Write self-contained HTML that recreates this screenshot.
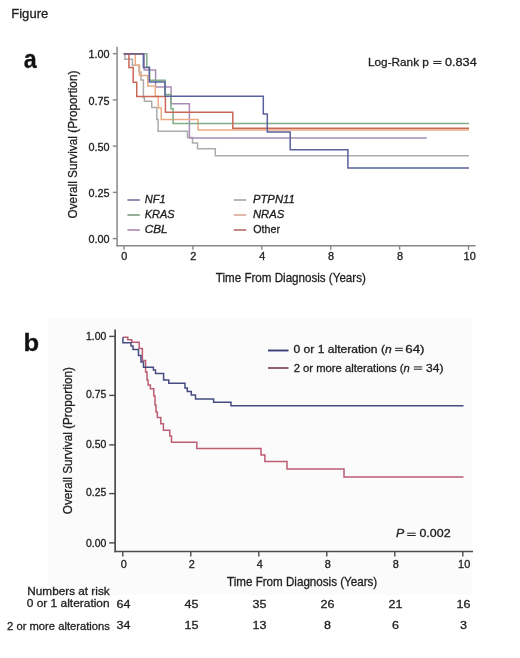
<!DOCTYPE html>
<html><head><meta charset="utf-8"><title>Figure</title>
<style>
html,body{margin:0;padding:0;background:#fff;}
body{width:520px;height:658px;overflow:hidden;font-family:"Liberation Sans", sans-serif;}
svg{display:block;font-family:"Liberation Sans", sans-serif;will-change:transform;}
text{stroke:#1e1e1e;stroke-width:0.3px;}
</style></head><body>
<svg width="520" height="658" viewBox="0 0 520 658">
<rect width="520" height="658" fill="#ffffff"/>
<rect x="48" y="318" width="424" height="277" fill="#fbfbfb"/>
<text transform="translate(11.23,18.10) scale(1.0105,1)" font-size="12.94" fill="#1e1e1e"><tspan>Figure</tspan></text>
<text transform="translate(23.73,67.60) scale(0.9306,1)" font-size="25.00" fill="#111"><tspan font-weight="bold">a</tspan></text>
<text transform="translate(23.41,351.30) scale(1.0812,1)" font-size="23.67" fill="#111"><tspan font-weight="bold">b</tspan></text>
<line x1="117.06" y1="46.8" x2="117.06" y2="246.6" stroke="#888888" stroke-width="1.5"/>
<line x1="116.3" y1="245.85" x2="475.6" y2="245.85" stroke="#888888" stroke-width="1.5"/>
<line x1="112.8" y1="53.7" x2="117.2" y2="53.7" stroke="#888888" stroke-width="1.4"/>
<line x1="112.8" y1="99.9" x2="117.2" y2="99.9" stroke="#888888" stroke-width="1.4"/>
<line x1="112.8" y1="146.1" x2="117.2" y2="146.1" stroke="#888888" stroke-width="1.4"/>
<line x1="112.8" y1="192.4" x2="117.2" y2="192.4" stroke="#888888" stroke-width="1.4"/>
<line x1="112.8" y1="238.6" x2="117.2" y2="238.6" stroke="#888888" stroke-width="1.4"/>
<text transform="translate(109.53,58.30) scale(1.0400,1)" font-size="10.45" text-anchor="end" fill="#1e1e1e">1.00</text>
<text transform="translate(109.56,104.50) scale(1.0400,1)" font-size="10.45" text-anchor="end" fill="#1e1e1e">0.75</text>
<text transform="translate(109.53,150.70) scale(1.0400,1)" font-size="10.45" text-anchor="end" fill="#1e1e1e">0.50</text>
<text transform="translate(109.56,197.00) scale(1.0400,1)" font-size="10.45" text-anchor="end" fill="#1e1e1e">0.25</text>
<text transform="translate(109.53,243.20) scale(1.0400,1)" font-size="10.45" text-anchor="end" fill="#1e1e1e">0.00</text>
<line x1="124.0" y1="245.8" x2="124.0" y2="249.8" stroke="#888888" stroke-width="1.4"/>
<line x1="192.9" y1="245.8" x2="192.9" y2="249.8" stroke="#888888" stroke-width="1.4"/>
<line x1="261.8" y1="245.8" x2="261.8" y2="249.8" stroke="#888888" stroke-width="1.4"/>
<line x1="330.7" y1="245.8" x2="330.7" y2="249.8" stroke="#888888" stroke-width="1.4"/>
<line x1="399.6" y1="245.8" x2="399.6" y2="249.8" stroke="#888888" stroke-width="1.4"/>
<line x1="468.5" y1="245.8" x2="468.5" y2="249.8" stroke="#888888" stroke-width="1.4"/>
<text transform="translate(124.40,259.60) scale(1.0600,1)" font-size="10.30" text-anchor="middle" fill="#1e1e1e">0</text>
<text transform="translate(193.30,259.60) scale(1.0600,1)" font-size="10.30" text-anchor="middle" fill="#1e1e1e">2</text>
<text transform="translate(262.20,259.60) scale(1.0600,1)" font-size="10.30" text-anchor="middle" fill="#1e1e1e">4</text>
<text transform="translate(331.10,259.60) scale(1.0600,1)" font-size="10.30" text-anchor="middle" fill="#1e1e1e">8</text>
<text transform="translate(400.00,259.60) scale(1.0600,1)" font-size="10.30" text-anchor="middle" fill="#1e1e1e">8</text>
<text transform="translate(469.70,259.60) scale(1.0600,1)" font-size="10.30" text-anchor="middle" fill="#1e1e1e">10</text>
<text transform="translate(215.84,281.50) scale(0.9081,1)" font-size="12.79" fill="#1e1e1e"><tspan>Time From Diagnosis (Years)</tspan></text>
<text transform="translate(77.20,218.45) rotate(-90) scale(0.8862,1)" font-size="13.29" fill="#1e1e1e"><tspan>Overall Survival (Proportion)</tspan></text>
<text transform="translate(368.03,65.70) scale(1.0124,1)" font-size="11.63" fill="#1e1e1e"><tspan>Log-Rank p</tspan></text>
<rect x="433.20" y="60.90" width="8.30" height="1.0" fill="#222"/><rect x="433.20" y="63.00" width="8.30" height="1.0" fill="#222"/>
<text transform="translate(445.00,65.70) scale(1.1361,1)" font-size="11.17" fill="#1e1e1e"><tspan>0.834</tspan></text>
<polyline points="124.00,53.75 124.90,53.75 124.90,59.20 132.40,59.20 132.40,65.30 139.00,65.30 139.00,72.00 141.00,72.00 141.00,80.00 143.40,80.00 143.40,97.50 144.40,97.50 144.40,101.20 151.70,101.20 151.70,107.40 156.80,107.40 156.80,119.40 158.10,119.40 158.10,131.25 187.50,131.25 187.50,137.50 192.50,137.50 192.50,143.10 197.50,143.10 197.50,148.80 215.30,148.80 215.30,155.80 469.00,155.80" fill="none" stroke="#ababab" stroke-width="1.5" stroke-linejoin="miter" stroke-linecap="butt"/>
<polyline points="124.00,53.75 144.20,53.75 144.20,69.90 155.60,69.90 155.60,87.00 171.10,87.00 171.10,103.80 189.40,103.80 189.40,138.00 426.80,138.00" fill="none" stroke="#a98cb6" stroke-width="1.5" stroke-linejoin="miter" stroke-linecap="butt"/>
<polyline points="124.00,53.75 135.30,53.75 135.30,65.20 139.50,65.20 139.50,75.50 147.80,75.50 147.80,86.10 155.30,86.10 155.30,96.50 158.30,96.50 158.30,108.10 161.25,108.10 161.25,119.40 198.10,119.40 198.10,129.90 469.00,129.90" fill="none" stroke="#eba984" stroke-width="1.5" stroke-linejoin="miter" stroke-linecap="butt"/>
<polyline points="124.00,53.75 146.80,53.75 146.80,67.20 149.60,67.20 149.60,80.30 165.20,80.30 165.20,94.60 171.00,94.60 171.00,108.70 173.10,108.70 173.10,123.40 469.00,123.40" fill="none" stroke="#80ad88" stroke-width="1.5" stroke-linejoin="miter" stroke-linecap="butt"/>
<polyline points="124.00,53.75 128.90,53.75 128.90,67.50 133.20,67.50 133.20,82.20 136.75,82.20 136.75,96.50 165.40,96.50 165.40,112.20 232.80,112.20 232.80,128.20 469.00,128.20" fill="none" stroke="#ca6858" stroke-width="1.5" stroke-linejoin="miter" stroke-linecap="butt"/>
<polyline points="124.00,53.75 143.40,53.75 143.40,67.60 149.30,67.60 149.30,82.00 165.00,82.00 165.00,96.20 263.30,96.20 263.30,114.10 267.30,114.10 267.30,132.10 290.20,132.10 290.20,149.70 347.90,149.70 347.90,167.90 469.00,167.90" fill="none" stroke="#5a619c" stroke-width="1.5" stroke-linejoin="miter" stroke-linecap="butt"/>
<line x1="123.3" y1="53.75" x2="143.4" y2="53.75" stroke="#7a5f80" stroke-width="1.5"/>
<line x1="127.4" y1="200.0" x2="139.8" y2="200.0" stroke="#74769a" stroke-width="1.6"/>
<line x1="127.4" y1="215.0" x2="139.8" y2="215.0" stroke="#7c9c80" stroke-width="1.6"/>
<line x1="127.4" y1="230.0" x2="139.8" y2="230.0" stroke="#ad88ae" stroke-width="1.6"/>
<line x1="233.8" y1="200.0" x2="246.20000000000002" y2="200.0" stroke="#a4a4a4" stroke-width="1.6"/>
<line x1="233.8" y1="215.0" x2="246.20000000000002" y2="215.0" stroke="#d8aa92" stroke-width="1.6"/>
<line x1="233.8" y1="230.0" x2="246.20000000000002" y2="230.0" stroke="#b46a66" stroke-width="1.6"/>
<text transform="translate(144.66,203.20) scale(0.9751,1)" font-size="11.34" fill="#1e1e1e"><tspan font-style="italic">NF1</tspan></text>
<text transform="translate(144.66,217.90) scale(1.0060,1)" font-size="10.90" fill="#1e1e1e"><tspan font-style="italic">KRAS</tspan></text>
<text transform="translate(144.75,232.80) scale(1.0932,1)" font-size="10.76" fill="#1e1e1e"><tspan font-style="italic">CBL</tspan></text>
<text transform="translate(252.95,203.40) scale(1.0215,1)" font-size="11.05" fill="#1e1e1e"><tspan font-style="italic">PTPN11</tspan></text>
<text transform="translate(252.95,218.20) scale(1.0191,1)" font-size="11.05" fill="#1e1e1e"><tspan font-style="italic">NRAS</tspan></text>
<text transform="translate(253.30,233.00) scale(0.9569,1)" font-size="11.19" fill="#1e1e1e"><tspan>Other</tspan></text>
<line x1="115.14" y1="329.6" x2="115.14" y2="552.3" stroke="#4c4c4c" stroke-width="1.7"/>
<line x1="114.3" y1="551.5" x2="473" y2="551.5" stroke="#4c4c4c" stroke-width="1.6"/>
<line x1="109.2" y1="336.4" x2="115.2" y2="336.4" stroke="#4c4c4c" stroke-width="1.4"/>
<line x1="109.2" y1="395.4" x2="115.2" y2="395.4" stroke="#4c4c4c" stroke-width="1.4"/>
<line x1="109.2" y1="444.9" x2="115.2" y2="444.9" stroke="#4c4c4c" stroke-width="1.4"/>
<line x1="109.2" y1="493.6" x2="115.2" y2="493.6" stroke="#4c4c4c" stroke-width="1.4"/>
<line x1="109.2" y1="542.9" x2="115.2" y2="542.9" stroke="#4c4c4c" stroke-width="1.4"/>
<text transform="translate(106.26,339.70) scale(1.0350,1)" font-size="10.10" text-anchor="end" fill="#1e1e1e">1.00</text>
<text transform="translate(106.29,398.30) scale(1.0350,1)" font-size="10.10" text-anchor="end" fill="#1e1e1e">0.75</text>
<text transform="translate(106.26,447.70) scale(1.0350,1)" font-size="10.10" text-anchor="end" fill="#1e1e1e">0.50</text>
<text transform="translate(106.29,496.40) scale(1.0350,1)" font-size="10.10" text-anchor="end" fill="#1e1e1e">0.25</text>
<text transform="translate(106.26,546.90) scale(1.0350,1)" font-size="10.10" text-anchor="end" fill="#1e1e1e">0.00</text>
<line x1="122.8" y1="551.5" x2="122.8" y2="556.6" stroke="#4c4c4c" stroke-width="1.4"/>
<line x1="190.8" y1="551.5" x2="190.8" y2="556.6" stroke="#4c4c4c" stroke-width="1.4"/>
<line x1="258.8" y1="551.5" x2="258.8" y2="556.6" stroke="#4c4c4c" stroke-width="1.4"/>
<line x1="326.8" y1="551.5" x2="326.8" y2="556.6" stroke="#4c4c4c" stroke-width="1.4"/>
<line x1="394.8" y1="551.5" x2="394.8" y2="556.6" stroke="#4c4c4c" stroke-width="1.4"/>
<line x1="462.8" y1="551.5" x2="462.8" y2="556.6" stroke="#4c4c4c" stroke-width="1.4"/>
<text transform="translate(123.85,568.30) scale(1.0600,1)" font-size="10.30" text-anchor="middle" fill="#1e1e1e">0</text>
<text transform="translate(191.85,568.30) scale(1.0600,1)" font-size="10.30" text-anchor="middle" fill="#1e1e1e">2</text>
<text transform="translate(259.85,568.30) scale(1.0600,1)" font-size="10.30" text-anchor="middle" fill="#1e1e1e">4</text>
<text transform="translate(327.85,568.30) scale(1.0600,1)" font-size="10.30" text-anchor="middle" fill="#1e1e1e">8</text>
<text transform="translate(395.85,568.30) scale(1.0600,1)" font-size="10.30" text-anchor="middle" fill="#1e1e1e">8</text>
<text transform="translate(464.15,568.30) scale(1.0600,1)" font-size="10.30" text-anchor="middle" fill="#1e1e1e">10</text>
<text transform="translate(227.04,585.70) scale(0.9648,1)" font-size="12.06" fill="#1e1e1e"><tspan>Time From Diagnosis (Years)</tspan></text>
<text transform="translate(72.10,514.15) rotate(-90) scale(0.8732,1)" font-size="13.43" fill="#1e1e1e"><tspan>Overall Survival (Proportion)</tspan></text>
<text transform="translate(395.92,537.40) scale(1.0921,1)" font-size="11.34" fill="#1e1e1e"><tspan font-style="italic">P</tspan></text>
<rect x="407.20" y="532.70" width="8.50" height="1.0" fill="#222"/><rect x="407.20" y="535.00" width="8.50" height="1.0" fill="#222"/>
<text transform="translate(419.41,537.40) scale(1.1163,1)" font-size="11.17" fill="#1e1e1e"><tspan>0.002</tspan></text>
<line x1="268" y1="350.5" x2="288.5" y2="350.5" stroke="#3a3f7c" stroke-width="1.9"/>
<line x1="268" y1="368" x2="288.5" y2="368" stroke="#8a5a62" stroke-width="1.9"/>
<text transform="translate(293.43,353.10) scale(1.1275,1)" font-size="10.74" fill="#1e1e1e"><tspan>0 or 1 alteration (</tspan><tspan font-style="italic">n</tspan></text>
<rect x="395.10" y="347.80" width="7.80" height="1.0" fill="#222"/><rect x="395.10" y="350.10" width="7.80" height="1.0" fill="#222"/>
<text transform="translate(405.22,353.10) scale(1.2437,1)" font-size="10.74" fill="#1e1e1e"><tspan>64)</tspan></text>
<text transform="translate(293.74,371.50) scale(0.9937,1)" font-size="11.32" fill="#1e1e1e"><tspan>2 or more alterations (</tspan><tspan font-style="italic">n</tspan></text>
<rect x="413.80" y="366.40" width="8.40" height="1.0" fill="#222"/><rect x="413.80" y="368.70" width="8.40" height="1.0" fill="#222"/>
<text transform="translate(425.94,371.50) scale(1.0708,1)" font-size="11.32" fill="#1e1e1e"><tspan>34)</tspan></text>
<polyline points="122.90,337.20 127.80,337.20 127.80,339.80 131.80,339.80 131.80,342.20 139.20,342.20 139.20,348.60 142.40,348.60 142.40,360.40 145.60,360.40 145.60,372.00 147.00,372.00 147.00,380.00 148.10,380.00 148.10,385.00 150.40,385.00 150.40,388.70 153.80,388.70 153.80,396.00 155.00,396.00 155.00,405.00 156.00,405.00 156.00,412.00 157.30,412.00 157.30,417.50 160.80,417.50 160.80,423.80 163.40,423.80 163.40,430.20 169.80,430.20 169.80,436.00 171.50,436.00 171.50,442.30 196.80,442.30 196.80,448.60 261.00,448.60 261.00,454.90 264.90,454.90 264.90,461.60 287.00,461.60 287.00,469.00 344.00,469.00 344.00,477.00 463.50,477.00" fill="none" stroke="#bc5e72" stroke-width="1.5" stroke-linejoin="miter" stroke-linecap="butt"/>
<polyline points="122.90,337.20 122.90,337.20 122.90,342.70 131.00,342.70 131.00,346.00 133.00,346.00 133.00,349.50 138.50,349.50 138.50,355.50 141.00,355.50 141.00,362.00 143.50,362.00 143.50,367.30 153.40,367.30 153.40,370.00 155.50,370.00 155.50,373.40 163.60,373.40 163.60,380.00 168.80,380.00 168.80,383.20 185.00,383.20 185.00,388.00 187.30,388.00 187.30,391.50 191.30,391.50 191.30,395.00 195.50,395.00 195.50,399.00 213.60,399.00 213.60,402.30 231.00,402.30 231.00,405.70 463.50,405.70" fill="none" stroke="#464c80" stroke-width="1.5" stroke-linejoin="miter" stroke-linecap="butt"/>
<text transform="translate(27.34,595.40) scale(1.0374,1)" font-size="11.34" fill="#1e1e1e"><tspan>Numbers at risk</tspan></text>
<text transform="translate(26.73,607.40) scale(1.0546,1)" font-size="11.32" fill="#1e1e1e"><tspan>0 or 1 alteration</tspan></text>
<text transform="translate(7.04,629.50) scale(0.9805,1)" font-size="11.46" fill="#1e1e1e"><tspan>2 or more alterations</tspan></text>
<text transform="translate(123.55,608.40) scale(1.1200,1)" font-size="11.20" text-anchor="middle" fill="#1e1e1e">64</text>
<text transform="translate(123.55,629.40) scale(1.1200,1)" font-size="11.20" text-anchor="middle" fill="#1e1e1e">34</text>
<text transform="translate(191.55,608.40) scale(1.1200,1)" font-size="11.20" text-anchor="middle" fill="#1e1e1e">45</text>
<text transform="translate(191.55,629.40) scale(1.1200,1)" font-size="11.20" text-anchor="middle" fill="#1e1e1e">15</text>
<text transform="translate(259.55,608.40) scale(1.1200,1)" font-size="11.20" text-anchor="middle" fill="#1e1e1e">35</text>
<text transform="translate(259.55,629.40) scale(1.1200,1)" font-size="11.20" text-anchor="middle" fill="#1e1e1e">13</text>
<text transform="translate(327.55,608.40) scale(1.1200,1)" font-size="11.20" text-anchor="middle" fill="#1e1e1e">26</text>
<text transform="translate(327.55,629.40) scale(1.1200,1)" font-size="11.20" text-anchor="middle" fill="#1e1e1e">8</text>
<text transform="translate(395.55,608.40) scale(1.1200,1)" font-size="11.20" text-anchor="middle" fill="#1e1e1e">21</text>
<text transform="translate(395.55,629.40) scale(1.1200,1)" font-size="11.20" text-anchor="middle" fill="#1e1e1e">6</text>
<text transform="translate(463.55,608.40) scale(1.1200,1)" font-size="11.20" text-anchor="middle" fill="#1e1e1e">16</text>
<text transform="translate(463.55,629.40) scale(1.1200,1)" font-size="11.20" text-anchor="middle" fill="#1e1e1e">3</text>
</svg>
</body></html>
